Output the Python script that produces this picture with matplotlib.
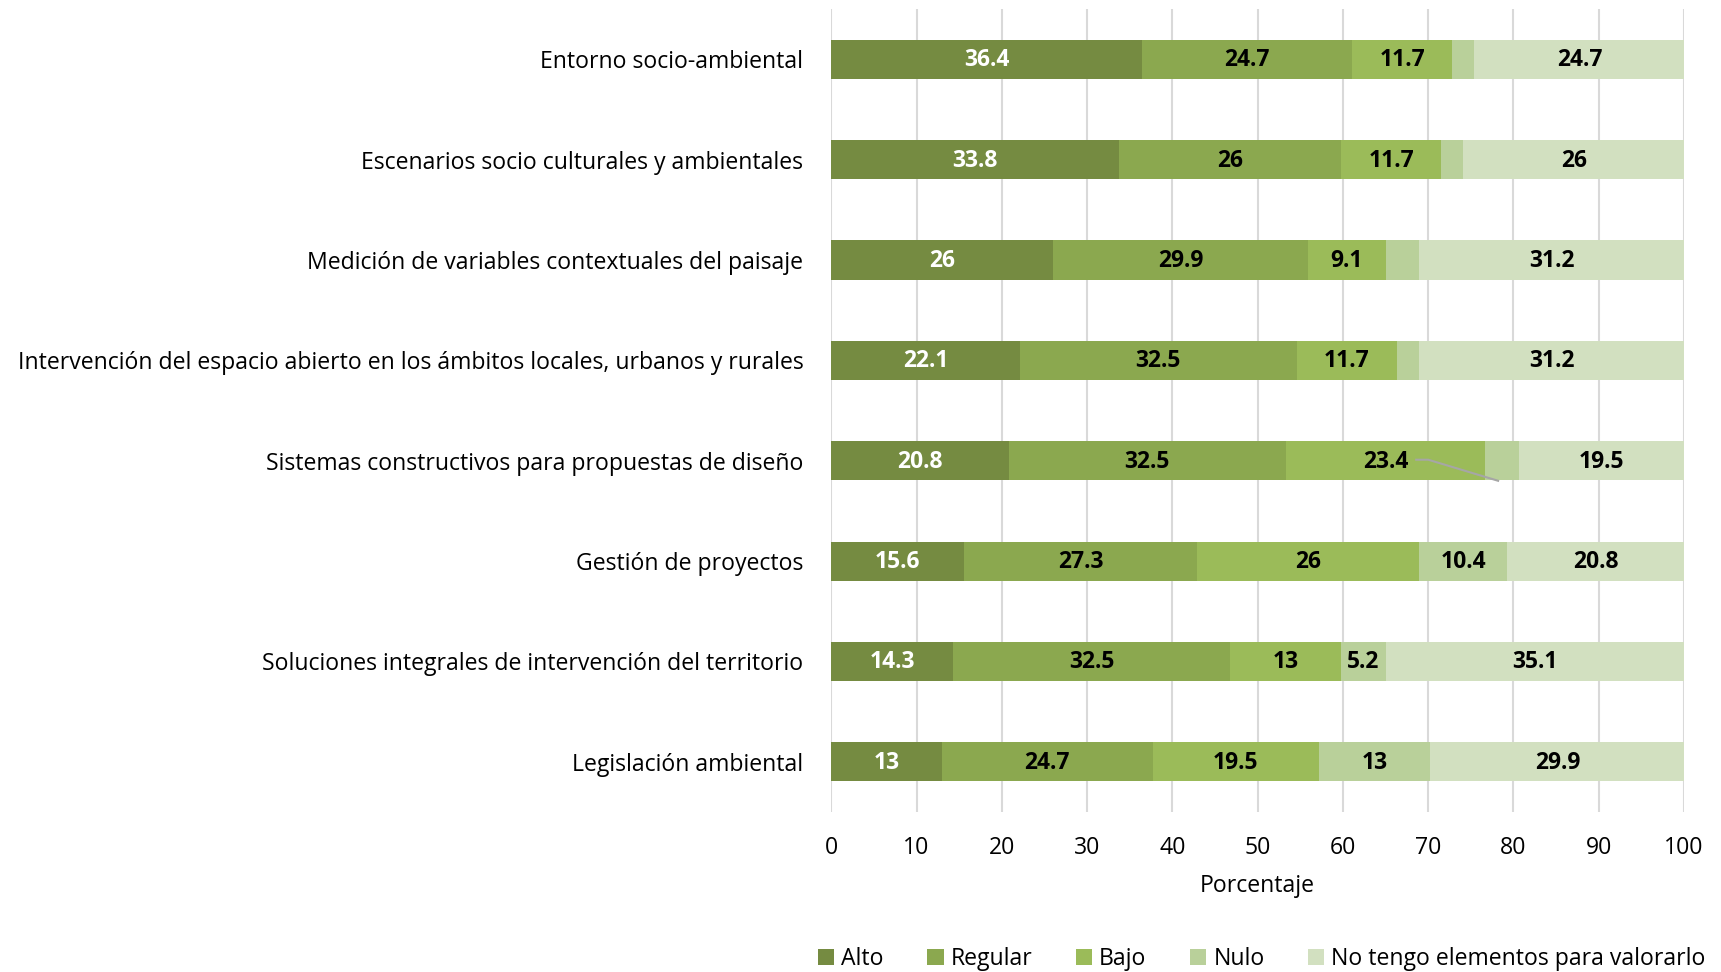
import matplotlib
matplotlib.use("Agg")
import matplotlib.pyplot as plt
import numpy as np

plt.rcParams['font.family'] = ['Open Sans', 'DejaVu Sans']

categories = [
    "Entorno socio-ambiental",
    "Escenarios socio culturales y ambientales",
    "Medición de variables contextuales del paisaje",
    "Intervención del espacio abierto en los ámbitos locales, urbanos y rurales",
    "Sistemas constructivos para propuestas de diseño",
    "Gestión de proyectos",
    "Soluciones integrales de intervención del territorio",
    "Legislación ambiental",
]
alto = [36.4, 33.8, 26, 22.1, 20.8, 15.6, 14.3, 13]
regular = [24.7, 26, 29.9, 32.5, 32.5, 27.3, 32.5, 24.7]
bajo = [11.7, 11.7, 9.1, 11.7, 23.4, 26, 13, 19.5]
nulo = [2.6, 2.6, 3.9, 2.6, 3.9, 10.4, 5.2, 13]
no_tengo = [24.7, 26, 31.2, 31.2, 19.5, 20.8, 35.1, 29.9]
series_names = ["Alto", "Regular", "Bajo", "Nulo", "No tengo elementos para valorarlo"]
series = [alto, regular, bajo, nulo, no_tengo]
colors = ["#758B41", "#8BA84F", "#9BBB59", "#B9D09A", "#D2E0C0"]
label_colors = ["white", "black", "black", "black", "black"]

fig = plt.figure(figsize=(17.21, 9.72), dpi=100)
ax = fig.add_axes([0.483, 0.1646, 0.4955, 0.8261])

y = np.arange(len(categories))
left = np.zeros(len(categories))
for name, vals, c, lc in zip(series_names, series, colors, label_colors):
    vals = np.array(vals, dtype=float)
    ax.barh(y, vals, left=left, height=0.39, color=c, label=name, zorder=2)
    for yi, (l, v) in enumerate(zip(left, vals)):
        if v >= 5:
            ax.text(l + v / 2, yi + 0.01, f"{v:g}", ha="center", va="center",
                    color=lc, fontsize=16.5, fontweight="bold", zorder=3)
    left += vals

# leader line in "Sistemas constructivos" row
ax.plot([68.6, 70.0, 78.2], [3.99, 3.99, 4.2], color="#A6A6A6", lw=1.5, zorder=3)

ax.set_xlim(0, 100)
ax.set_ylim(len(categories) - 0.5, -0.5)
ax.set_xticks(np.arange(0, 101, 10))
ax.set_yticks(y)
ax.set_yticklabels(categories, fontsize=16.6)
ax.tick_params(axis="x", labelsize=16.6, length=0, pad=17)
ax.tick_params(axis="y", length=0, pad=20)
ax.xaxis.grid(True, color="#D9D9D9", lw=1.5, zorder=0)
ax.set_axisbelow(True)
for s in ax.spines.values():
    s.set_visible(False)
ax.set_xlabel("Porcentaje", fontsize=16.6, labelpad=10)

ax.legend(loc="center", bbox_to_anchor=(0.505, -0.183), ncol=5, frameon=False,
          fontsize=16.6, handlelength=0.7, handleheight=0.7, handletextpad=0.3,
          columnspacing=1.9)

fig.savefig("out.png", dpi=100)
